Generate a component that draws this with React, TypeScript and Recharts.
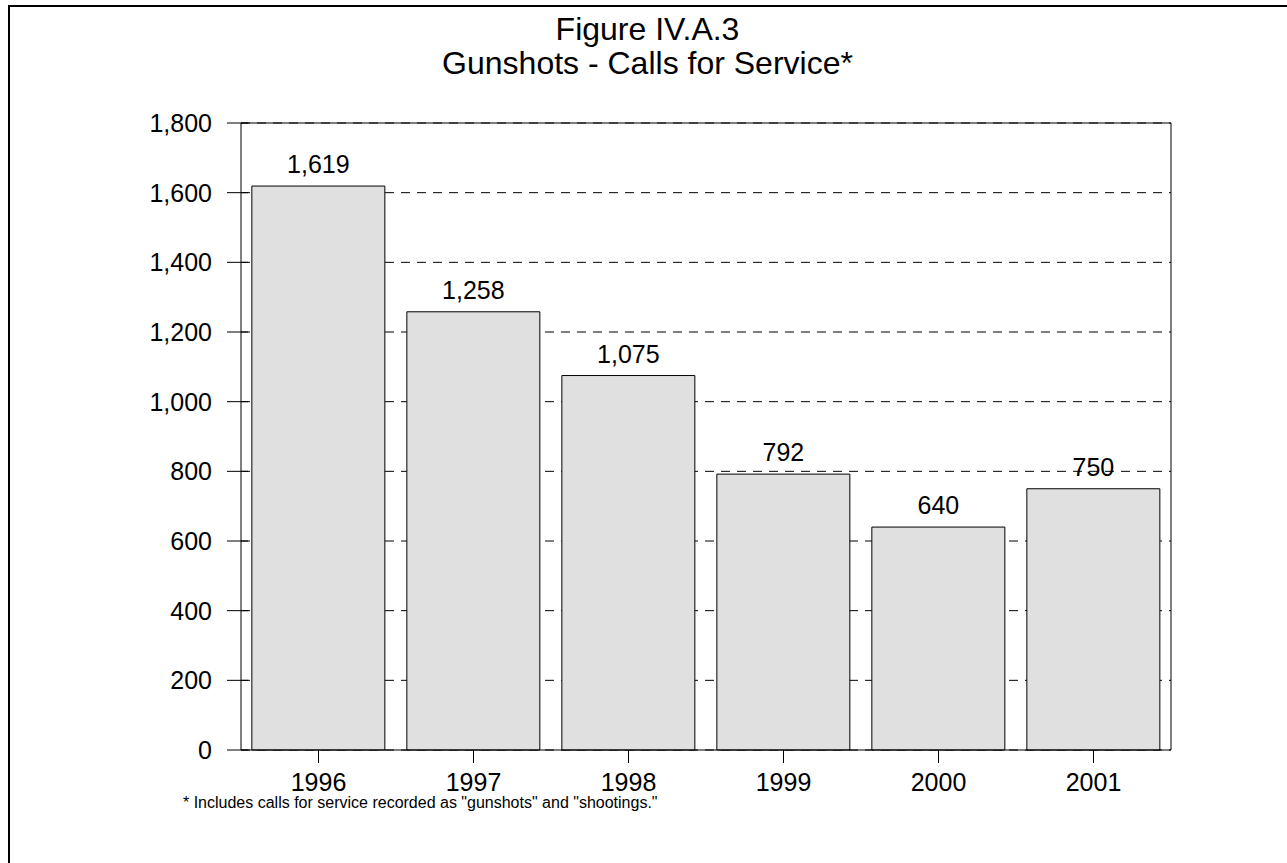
import {
  Bar,
  BarChart,
  CartesianGrid,
  LabelList,
  ReferenceLine,
  XAxis,
  YAxis,
} from 'recharts';

const years = ['1996', '1997', '1998', '1999', '2000', '2001'];
const calls = [1619, 1258, 1075, 792, 640, 750];
const yTicks = [0, 200, 400, 600, 800, 1000, 1200, 1400, 1600, 1800];

const FONT = '"Liberation Sans", Arial, sans-serif';

const data = years.map((year, i) => ({ year, calls: calls[i] }));

const fmt = (v: number) => v.toLocaleString('en-US');

function YTick(props: any) {
  const { x, y, payload } = props;
  const axisX = x + 15 + 14;
  return (
    <g>
      <line x1={axisX - 14} x2={axisX + 7} y1={y} y2={y} stroke="#000" />
      <text
        x={x}
        y={y}
        dy="0.36em"
        textAnchor="end"
        fill="#000"
        fontSize={25}
        fontFamily={FONT}
      >
        {fmt(payload.value)}
      </text>
    </g>
  );
}

export default function App() {
  return (
    <div
      style={{
        position: 'absolute',
        left: 0,
        top: 0,
        width: 1287,
        height: 863,
        background: '#fff',
        fontFamily: FONT,
      }}
    >
      <div
        style={{
          position: 'absolute',
          left: 8,
          top: 5,
          right: 0,
          bottom: 0,
          borderLeft: '2px solid #000',
          borderTop: '2px solid #000',
        }}
      />
      <div
        style={{
          position: 'absolute',
          left: 8,
          width: 1279,
          top: 12,
          textAlign: 'center',
          fontSize: 32,
          lineHeight: '34px',
          color: '#000',
          whiteSpace: 'nowrap',
        }}
      >
        Figure IV.A.3
        <br />
        Gunshots - Calls for Service*
      </div>
      <div style={{ position: 'absolute', left: 0, top: 0 }}>
        <BarChart
          width={1287}
          height={863}
          data={data}
          margin={{ top: 123, right: 115, bottom: 73, left: 181 }}
          barCategoryGap="7%"
        >
          <CartesianGrid
            vertical={false}
            stroke="#000"
            strokeDasharray="9 7"
            yAxisId="left"
          />
          <XAxis
            dataKey="year"
            axisLine={{ stroke: '#000' }}
            tickLine={{ stroke: '#000' }}
            tickSize={13}
            tickMargin={10}
            height={40}
            tick={{ fill: '#000', fontSize: 25, fontFamily: FONT }}
          />
          <YAxis
            yAxisId="left"
            domain={[0, 1800]}
            ticks={yTicks}
            interval={0}
            width={60}
            axisLine={{ stroke: '#000' }}
            tickLine={false}
            tickSize={14}
            tickMargin={15}
            tick={<YTick />}
          />
          <YAxis
            yAxisId="right"
            orientation="right"
            domain={[0, 1800]}
            width={1}
            tick={false}
            tickLine={false}
            axisLine={{ stroke: '#000' }}
          />
          <ReferenceLine yAxisId="left" y={1800} stroke="#000" />
          <Bar
            yAxisId="left"
            dataKey="calls"
            fill="#e0e0e0"
            stroke="#000"
            strokeWidth={1}
            isAnimationActive={false}
          >
            <LabelList
              dataKey="calls"
              position="top"
              offset={13}
              formatter={(v: any) => fmt(Number(v))}
              fill="#000"
              fontSize={25}
              fontFamily={FONT}
            />
          </Bar>
        </BarChart>
      </div>
      <div
        style={{
          position: 'absolute',
          left: 183,
          top: 794,
          fontSize: 16,
          color: '#000',
          whiteSpace: 'nowrap',
        }}
      >
        * Includes calls for service recorded as "gunshots" and "shootings."
      </div>
    </div>
  );
}
